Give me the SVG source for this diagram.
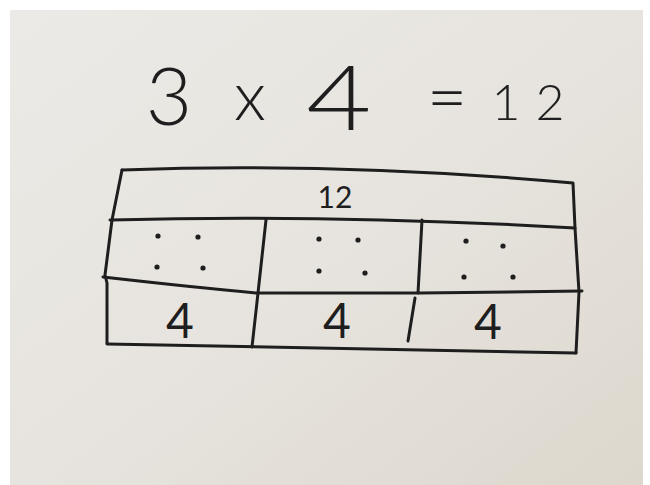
<svg xmlns="http://www.w3.org/2000/svg" width="650" height="485" viewBox="0 0 650 485">
<defs>
<linearGradient id="paper" x1="0" y1="0" x2="1" y2="1">
<stop offset="0" stop-color="#eceae6"/>
<stop offset="0.5" stop-color="#e7e4df"/>
<stop offset="1" stop-color="#ddd7cd"/>
</linearGradient>
</defs>
<style>
.ink{fill:none;stroke:#1e1e1e;stroke-width:3;stroke-linecap:round;stroke-linejoin:round}
.hand{font-family:"Lato","Liberation Sans",sans-serif;font-weight:400;fill:#1e1e1e;text-anchor:middle}
.title{font-weight:300}
.dot{fill:#1e1e1e}
</style>
<rect width="650" height="485" fill="#ffffff"/>
<rect x="10" y="10" width="633" height="475" fill="url(#paper)"/>
<g id="equation">
<text class="hand title" x="169" y="125" font-size="80">3</text>
<text class="hand title" x="250" y="120" font-size="68">x</text>
<text class="hand title" x="339" y="130" font-size="90" transform="translate(339 0) scale(1.25 1) translate(-339 0)">4</text>
<text class="hand title" x="447" y="122" font-size="70">=</text>
<text class="hand title" y="120" font-size="50"><tspan x="506">1</tspan><tspan x="550">2</tspan></text>
</g>
<g id="bar-model">
<path class="ink" d="M122 170 Q340 162 573 183 L575 228 L579 292 L576 353"/>
<path class="ink" d="M122 170 L112 220 L105 275 L107 283 L107 343"/>
<path class="ink" d="M110 220 Q330 214 575 228"/>
<path class="ink" d="M103 277 Q200 288 257 293 L420 293 L582 291"/>
<path class="ink" d="M107 344 Q340 348 576 353"/>
<path class="ink" d="M266 220 L258 293 L252 347"/>
<path class="ink" d="M422 220 L418 293"/>
<path class="ink" d="M415 298 L408 341"/>
</g>
<g id="total">
<text class="hand" x="335" y="208" font-size="30">12</text>
</g>
<g id="dots">
<circle class="dot" cx="158" cy="236" r="2.6"/>
<circle class="dot" cx="198" cy="237" r="2.6"/>
<circle class="dot" cx="157" cy="267" r="2.6"/>
<circle class="dot" cx="203" cy="268" r="2.6"/>
<circle class="dot" cx="319" cy="239" r="2.6"/>
<circle class="dot" cx="358" cy="240" r="2.6"/>
<circle class="dot" cx="319" cy="271" r="2.6"/>
<circle class="dot" cx="365" cy="273" r="2.6"/>
<circle class="dot" cx="466" cy="241" r="2.6"/>
<circle class="dot" cx="503" cy="246" r="2.6"/>
<circle class="dot" cx="464" cy="277" r="2.6"/>
<circle class="dot" cx="513" cy="277" r="2.6"/>
</g>
<g id="parts">
<text class="hand" x="180" y="338" font-size="48">4</text>
<text class="hand" x="337" y="338" font-size="48">4</text>
<text class="hand" x="488" y="339" font-size="48">4</text>
</g>
</svg>
